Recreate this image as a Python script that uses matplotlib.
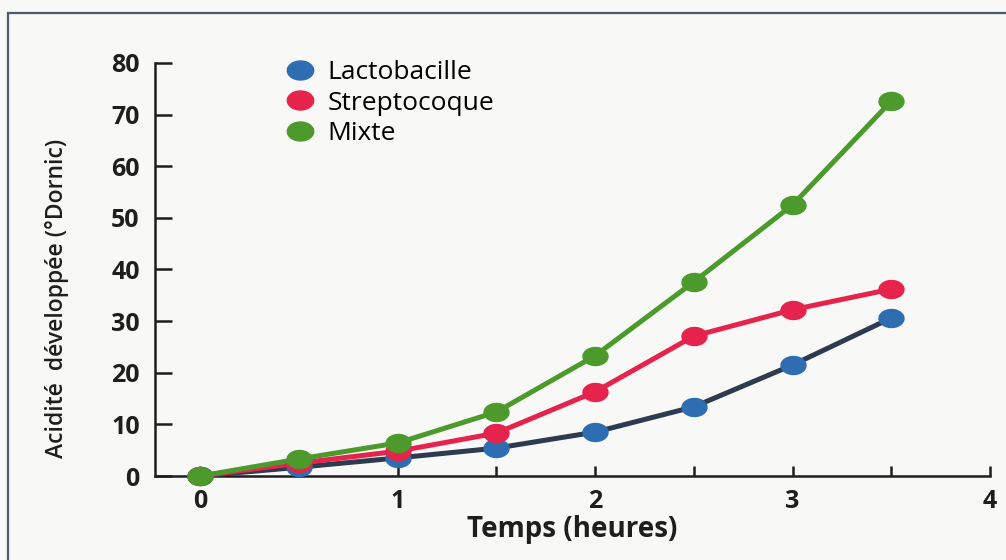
import numpy as np
import matplotlib.pyplot as plt
from matplotlib.lines import Line2D
from matplotlib.patches import Rectangle
from matplotlib.ticker import MultipleLocator

# Temps (heures) et acidité (°Dornic)
temps = [0, 0.5, 1, 1.5, 2, 2.5, 3, 3.5]
lactobacille = [0, 1.7, 3.5, 5.4, 8.5, 13.4, 21.5, 30.6]
streptocoque = [0, 2.5, 4.8, 8.3, 16.3, 27.1, 32.2, 36.2]
mixte = [0, 3.3, 6.4, 12.4, 23.3, 37.6, 52.5, 72.6]

noms = ["Lactobacille", "Streptocoque", "Mixte"]
x_ticks = [0, 1, 2, 3, 4]
y_ticks = [0, 10, 20, 30, 40, 50, 60, 70, 80]

plt.rcParams['font.family'] = ['Open Sans', 'DejaVu Sans']

bg = '#f8f8f6'
ink = '#1e1e1e'
fig = plt.figure(figsize=(10.06, 5.6), dpi=100, facecolor=bg)
ax = fig.add_axes([0.154, 0.15, 0.830, 0.7375])
ax.set_facecolor(bg)

# cadre du scan (haut et gauche)
fig.patches.append(Rectangle((0.008, -0.05), 1.2, 1.027, transform=fig.transFigure,
                             fill=False, edgecolor='#4a5a72', linewidth=1.6))

# marqueur légèrement ovale (le scan est étiré horizontalement)
t = np.linspace(0, 2 * np.pi, 40)
ovale = list(zip(np.cos(t), 0.72 * np.sin(t)))

series = [
    (lactobacille, '#2c3b50', '#2f6db2'),
    (streptocoque, '#e5234c', '#e5234c'),
    (mixte, '#4b9a2b', '#4b9a2b'),
]
for vals, lc, mc in series:
    ax.plot(temps, vals, color=lc, linewidth=3.6, marker=ovale, markersize=18,
            markerfacecolor=mc, markeredgecolor=mc, clip_on=False, zorder=3)

ax.set_xlim(-0.23, 4.0)
ax.set_ylim(0, 80)
ax.set_xticks(x_ticks)
ax.set_yticks(y_ticks)
ax.xaxis.set_minor_locator(MultipleLocator(0.5))

for side in ['top', 'right']:
    ax.spines[side].set_visible(False)
for side in ['left', 'bottom']:
    ax.spines[side].set_linewidth(1.8)
    ax.spines[side].set_color(ink)

ax.tick_params(axis='y', direction='in', length=12, width=1.8, color=ink, pad=11,
               labelsize=18)
ax.tick_params(axis='x', which='both', direction='in', length=7, width=1.8, color=ink,
               pad=9, labelsize=18)
for lab in ax.get_xticklabels() + ax.get_yticklabels():
    lab.set_fontweight('bold')
    lab.set_color(ink)

ax.set_xlabel("Temps (heures)", fontsize=20, fontweight='bold', color=ink, labelpad=1)
ax.set_ylabel("Acidité  développée (°Dornic)", fontsize=16.5, fontweight='semibold',
              color=ink)
ax.yaxis.set_label_coords(-0.103, 0.43)

handles = [Line2D([], [], linestyle='none', marker=ovale, markersize=19,
                  markerfacecolor=c, markeredgecolor=c)
           for c in ['#2f6db2', '#e5234c', '#4b9a2b']]
ax.legend(handles, noms, loc='upper left', bbox_to_anchor=(0.272, 0.912),
          bbox_transform=fig.transFigure, frameon=False, fontsize=19,
          handletextpad=0.45, handlelength=1.2, labelspacing=0.22, borderaxespad=0)

fig.savefig("out.png", dpi=100, facecolor=bg)
